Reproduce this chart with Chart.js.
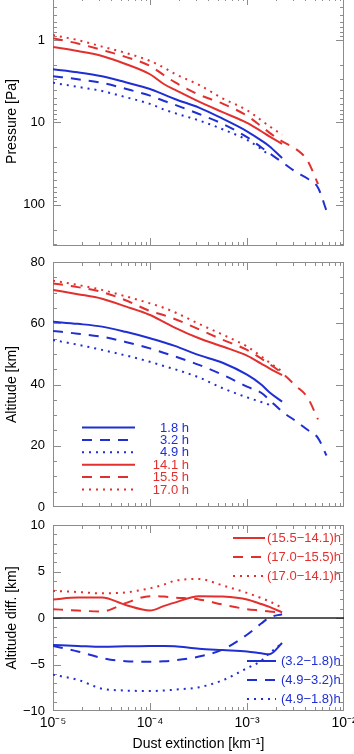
<!DOCTYPE html>
<html>
<head>
<meta charset="utf-8">
<script src="https://cdn.jsdelivr.net/npm/chart.js@4.4.0/dist/chart.umd.min.js"></script>
<style>
  html, body { margin: 0; padding: 0; background: #fff; overflow: hidden; }
  body { width: 354px; height: 754px; position: relative; }
  canvas { position: absolute; left: 0; }
</style>
</head>
<body>
<canvas id="pressureChart" width="354" height="256" style="top:-3px"></canvas>
<canvas id="altitudeChart" width="354" height="270" style="top:250px"></canvas>
<canvas id="diffChart" width="354" height="239" style="top:515px"></canvas>
<script>
// dust extinction grid [km^-1]
const extinction = [1e-5, 1.8e-5, 3.2e-5, 5.6e-5, 1e-4, 1.4e-4, 1.8e-4, 3.2e-4, 5.6e-4,
  1e-3, 1.4e-3, 1.7e-3, 2.3e-3, 3.2e-3, 4.2e-3, 5.4e-3, 6.6e-3];

const timeLabels = ['1.8 h', '3.2 h', '4.9 h', '14.1 h', '15.5 h', '17.0 h'];
const diffLabels = ['(3.2\u22121.8)h', '(4.9\u22123.2)h', '(4.9\u22121.8)h',
  '(15.5\u221214.1)h', '(17.0\u221215.5)h', '(17.0\u221214.1)h'];

// pressure [Pa]
const pres1_8  = [2.26, 2.46, 2.75, 3.25, 3.92, 4.6, 5.2, 6.6, 9.0, 12.8, 16.5, 19.4, 27];
const pres3_2  = [2.74, 2.99, 3.3, 3.9, 4.73, 5.5, 6.1, 7.9, 10.4, 15.1, 20, 23.6, 30.3, 40, 48, 62, 118];
const pres4_9  = [3.3, 3.7, 4.15, 4.93, 5.95, 6.97, 7.7, 9.46, 12.1, 16.3, 21, 25];
const pres14_1 = [1.21, 1.36, 1.56, 1.95, 2.6, 3.44, 4.0, 5.6, 7.5, 10.1, 12.8, 14.8, 18.2];
const pres15_5 = [0.95, 1.10, 1.32, 1.6, 2.06, 2.68, 3.25, 4.6, 5.9, 8.3, 11.1, 13.3, 17.0, 21, 29, 56];
const pres17_0 = [0.87, 1.0, 1.2, 1.43, 1.79, 2.17, 2.57, 3.5, 5.1, 7.1, 9.4, 11.1, 14.1];

// altitude [km]
const alt1_8  = [60.5, 59.8, 58.9, 57.2, 55.1, 53.7, 52.6, 49.6, 47.1, 43.2, 40.0, 37.5, 34.4];
const alt3_2  = [57.5, 56.6, 55.6, 53.9, 51.8, 50.3, 49.2, 46.4, 43.2, 39.3, 37.3, 35.0, 31.2, 28.0, 25.2, 22.5, 16.8];
const alt4_9  = [54.5, 53.0, 51.3, 49.5, 47.4, 46.0, 45.0, 42.3, 38.8, 35.8, 34.3, 33.4];
const alt14_1 = [70.9, 69.5, 68.0, 65.5, 62.7, 60.4, 58.6, 55.1, 52.4, 49.4, 46.8, 45.3, 43.1];
const alt15_5 = [73.0, 71.8, 70.2, 67.5, 64.0, 62.6, 61.4, 58.0, 54.6, 51.3, 48.5, 46.7, 43.7, 39.5, 35.8, 28.6];
const alt17_0 = [73.9, 72.5, 70.9, 68.8, 66.5, 65.0, 63.6, 59.8, 56.3, 52.4, 49.2, 47.2, 44.3];

// altitude differences [km]
const diff32_18  = [-2.9, -3.0, -3.1, -3.05, -3.0, -3.0, -3.05, -3.3, -3.45, -3.6, -3.8, -3.9, -2.7];
const diff49_32  = [-3.0, -3.6, -4.3, -4.65, -4.7, -4.65, -4.55, -4.15, -3.4, -1.8, -0.6, 0.05, 0.4];
const diff49_18  = [-6.1, -6.65, -7.6, -7.8, -7.85, -7.8, -7.7, -7.45, -6.7, -5.4, -4.6, -3.8, -2.7];
const diff155_141 = [2.0, 2.2, 2.2, 1.4, 0.8, 1.3, 1.65, 2.35, 2.3, 2.0, 1.5, 1.2, 0.6];
const diff170_155 = [0.95, 0.8, 0.7, 1.6, 2.35, 2.3, 2.2, 2.0, 1.45, 0.95, 0.8, 0.7, 0.6];
const diff170_141 = [2.9, 2.8, 2.65, 2.75, 3.2, 3.6, 4.0, 4.2, 3.5, 2.7, 2.15, 1.8, 1.1];

const xMajor = [1e-5, 1e-4, 1e-3, 1e-2];

const BLUE = '#1f2fd2';
const RED = '#e2302e';
const lineColors = [BLUE, BLUE, BLUE, RED, RED, RED];
const lineDashes = [[], [10, 8], [2, 5], [], [10, 8], [2, 5]];
const FONT = "'Liberation Sans', Arial, Helvetica, sans-serif";

Chart.defaults.font.family = FONT;
Chart.defaults.color = '#000';

function logMinor(lo, hi) {
  const out = [];
  for (let e = lo; e < hi; e++) for (let k = 2; k < 10; k++) out.push(k * Math.pow(10, e));
  return out;
}
function steps(lo, hi, d) {
  const out = [];
  for (let v = lo; v <= hi; v += d) out.push(v);
  return out;
}

function makeSets(series, labels) {
  return series.map((vals, i) => ({
    label: labels[i],
    data: vals.map((v, j) => ({ x: extinction[j], y: v })),
    borderColor: lineColors[i],
    borderDash: lineDashes[i],
    borderWidth: 2,
    borderCapStyle: 'butt',
    pointRadius: 0,
    cubicInterpolationMode: 'monotone',
    fill: false
  }));
}

// box with inward IDL-style ticks
const frame = {
  id: 'frame',
  beforeDatasetsDraw(chart, args, opts) {
    const { ctx, chartArea: a, scales } = chart;
    ctx.save();
    ctx.strokeStyle = '#8c8c8c';
    ctx.lineWidth = 1;
    ctx.beginPath();
    const tick = (axis, values, len) => values.forEach(v => {
      const p = Math.round(scales[axis].getPixelForValue(v)) + 0.5;
      if (axis === 'x') {
        if (p < a.left || p > a.right) return;
        ctx.moveTo(p, a.bottom); ctx.lineTo(p, a.bottom - len);
        ctx.moveTo(p, a.top); ctx.lineTo(p, a.top + len);
      } else {
        if (p < a.top || p > a.bottom) return;
        ctx.moveTo(a.left, p); ctx.lineTo(a.left + len, p);
        ctx.moveTo(a.right, p); ctx.lineTo(a.right - len, p);
      }
    });
    tick('x', opts.xMajor, 8);
    tick('x', opts.xMinor, 4);
    tick('y', opts.yMajor, 8);
    tick('y', opts.yMinor, 4);
    ctx.stroke();
    ctx.strokeRect(a.left + 0.5, a.top + 0.5, a.right - a.left - 1, a.bottom - a.top - 1);
    if (opts.zeroLine) {
      const y0 = scales.y.getPixelForValue(0);
      ctx.strokeStyle = '#222';
      ctx.lineWidth = 1.5;
      ctx.beginPath();
      ctx.moveTo(a.left, y0); ctx.lineTo(a.right, y0);
      ctx.stroke();
    }
    ctx.restore();
  }
};

// line-sample legend drawn inside the plot
const keyLegend = {
  id: 'keyLegend',
  afterDatasetsDraw(chart, args, opts) {
    if (!opts.rows) return;
    const ctx = chart.ctx;
    ctx.save();
    ctx.font = '13px ' + FONT;
    ctx.textBaseline = 'middle';
    chart.data.datasets.forEach((ds, i) => {
      const r = opts.rows[i];
      ctx.strokeStyle = ds.borderColor;
      ctx.lineWidth = 2;
      ctx.setLineDash(ds.borderDash);
      ctx.beginPath();
      ctx.moveTo(r.x0, r.y); ctx.lineTo(r.x1, r.y);
      ctx.stroke();
      ctx.setLineDash([]);
      ctx.fillStyle = ds.borderColor;
      ctx.textAlign = r.align;
      ctx.fillText(ds.label, r.tx, r.y + 0.5);
    });
    ctx.restore();
  }
};

function yAxis(extra, titleText, tickValues, fmt) {
  return Object.assign({
    position: 'left',
    grid: { display: false, drawTicks: false },
    border: { display: false },
    ticks: { font: { size: 13 }, color: '#000', padding: 8, autoSkip: false, callback: fmt },
    title: { display: true, text: titleText, font: { size: 14 }, color: '#000', padding: { top: 4, bottom: 0 } },
    afterBuildTicks: s => { s.ticks = tickValues.map(v => ({ value: v })); },
    afterFit: s => { s.width = 53; s.paddingTop = 0; s.paddingBottom = 0; }
  }, extra);
}

const xHidden = { type: 'logarithmic', min: 1e-5, max: 1e-2, display: false };
const baseOpts = {
  responsive: false,
  animation: false,
  events: []
};
const noLegend = { legend: { display: false }, tooltip: { enabled: false } };

new Chart(document.getElementById('pressureChart'), {
  type: 'line',
  data: { datasets: makeSets([pres1_8, pres3_2, pres4_9, pres14_1, pres15_5, pres17_0], timeLabels) },
  options: Object.assign({}, baseOpts, {
    layout: { padding: { top: 0, right: 10, bottom: 7, left: 0 } },
    plugins: Object.assign({}, noLegend, {
      frame: { xMajor: xMajor, xMinor: logMinor(-5, -2), yMajor: [1, 10, 100], yMinor: logMinor(-1, 3) }
    }),
    scales: {
      x: xHidden,
      y: yAxis({ type: 'logarithmic', reverse: true, min: Math.pow(10, -0.5), max: Math.pow(10, 2.5) },
        'Pressure [Pa]', [1, 10, 100], v => String(v))
    }
  }),
  plugins: [frame]
});

const legendRows = timeLabels.map((t, i) => ({ x0: 82, x1: 135, y: 177.5 + 12.4 * i, tx: 189, align: 'right' }));

new Chart(document.getElementById('altitudeChart'), {
  type: 'line',
  data: { datasets: makeSets([alt1_8, alt3_2, alt4_9, alt14_1, alt15_5, alt17_0], timeLabels) },
  options: Object.assign({}, baseOpts, {
    layout: { padding: { top: 12, right: 10, bottom: 13, left: 0 } },
    plugins: Object.assign({}, noLegend, {
      frame: { xMajor: xMajor, xMinor: logMinor(-5, -2), yMajor: steps(0, 80, 20), yMinor: steps(0, 80, 5) },
      keyLegend: { rows: legendRows }
    }),
    scales: {
      x: xHidden,
      y: yAxis({ type: 'linear', min: 0, max: 80 }, 'Altitude [km]', steps(0, 80, 20), v => String(v))
    }
  }),
  plugins: [frame, keyLegend]
});

const supDigits = { '-': '\u207B', '0': '\u2070', '1': '\u00B9', '2': '\u00B2', '3': '\u00B3', '4': '\u2074', '5': '\u2075' };
const sup = n => String(n).split('').map(c => supDigits[c]).join('');

const diffRows = [
  { x0: 247, x1: 276, y: 146, tx: 281, align: 'left' },
  { x0: 247, x1: 276, y: 165, tx: 281, align: 'left' },
  { x0: 247, x1: 276, y: 184, tx: 281, align: 'left' },
  { x0: 233, x1: 265, y: 23, tx: 267, align: 'left' },
  { x0: 233, x1: 265, y: 42, tx: 267, align: 'left' },
  { x0: 233, x1: 265, y: 61, tx: 267, align: 'left' }
];

new Chart(document.getElementById('diffChart'), {
  type: 'line',
  data: { datasets: makeSets([diff32_18, diff49_32, diff49_18, diff155_141, diff170_155, diff170_141], diffLabels) },
  options: Object.assign({}, baseOpts, {
    layout: { padding: { top: 10, right: 10, bottom: 0, left: 0 } },
    plugins: Object.assign({}, noLegend, {
      frame: { xMajor: xMajor, xMinor: logMinor(-5, -2), yMajor: steps(-10, 10, 5), yMinor: steps(-10, 10, 1), zeroLine: true },
      keyLegend: { rows: diffRows }
    }),
    scales: {
      x: {
        type: 'logarithmic', min: 1e-5, max: 1e-2,
        grid: { display: false, drawTicks: false },
        border: { display: false },
        ticks: { font: { size: 14 }, color: '#000', padding: 4, maxRotation: 0, autoSkip: false,
          callback: v => '10' + sup(Math.round(Math.log10(v))) },
        title: { display: true, text: 'Dust extinction [km\u207B\u00B9]', font: { size: 14 }, color: '#000', padding: { top: 0, bottom: 1 } },
        afterBuildTicks: s => { s.ticks = xMajor.map(v => ({ value: v })); },
        afterFit: s => { s.height = 43; s.paddingLeft = 0; s.paddingRight = 0; }
      },
      y: yAxis({ type: 'linear', min: -10, max: 10 }, 'Altitude diff. [km]', steps(-10, 10, 5),
        v => (v < 0 ? '\u2212' + Math.abs(v) : String(v)))
    }
  }),
  plugins: [frame, keyLegend]
});
</script>
</body>
</html>
